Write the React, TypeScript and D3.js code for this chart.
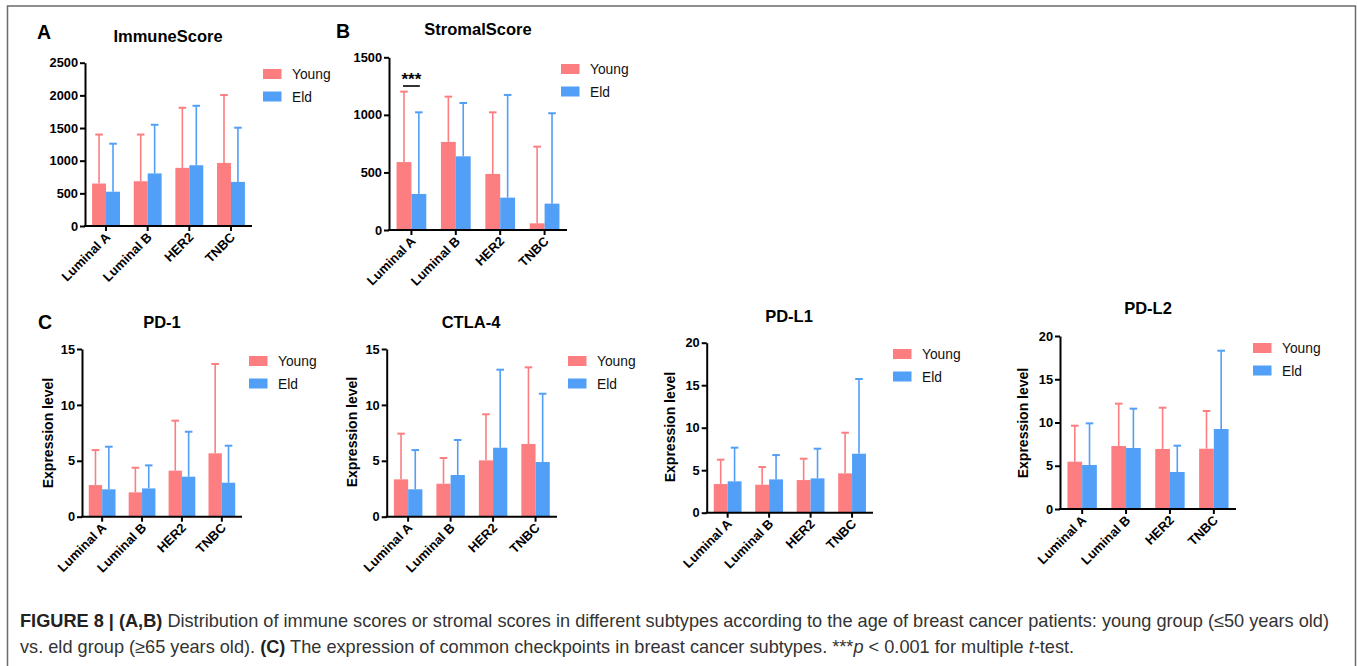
import React, { useRef, useEffect } from "react";
import * as d3 from "d3";

// categories / series
const subtypes = ["Luminal A", "Luminal B", "HER2", "TNBC"];
const groups = ["Young", "Eld"];

// A: ImmuneScore (mean, sd)
const immuneYoung = [650, 685, 890, 965];
const immuneYoungSd = [750, 715, 920, 1040];
const immuneEld = [525, 805, 930, 675];
const immuneEldSd = [735, 745, 910, 830];

// B: StromalScore
const stromalYoung = [590, 765, 487, 58];
const stromalYoungSd = [612, 393, 535, 666];
const stromalEld = [313, 640, 281, 229];
const stromalEldSd = [709, 463, 892, 785];

// C: checkpoints
const pd1Young = [2.83, 2.18, 4.12, 5.67];
const pd1YoungSd = [3.13, 2.2, 4.47, 7.99];
const pd1Eld = [2.45, 2.53, 3.58, 3.04];
const pd1EldSd = [3.81, 2.06, 4.02, 3.31];

const ctla4Young = [3.34, 2.95, 5.04, 6.5];
const ctla4YoungSd = [4.09, 2.3, 4.12, 6.86];
const ctla4Eld = [2.45, 3.73, 6.17, 4.89];
const ctla4EldSd = [3.51, 3.13, 6.98, 6.11];

const pdl1Young = [3.37, 3.29, 3.84, 4.63];
const pdl1YoungSd = [2.87, 2.08, 2.51, 4.78];
const pdl1Eld = [3.69, 3.92, 4.04, 6.94];
const pdl1EldSd = [3.96, 2.86, 3.49, 8.79];

const pdl2Young = [5.47, 7.28, 6.94, 6.97];
const pdl2YoungSd = [4.16, 4.9, 4.77, 4.36];
const pdl2Eld = [5.09, 7.05, 4.28, 9.25];
const pdl2EldSd = [4.81, 4.55, 3.04, 9.05];

const ticks2500 = [0, 500, 1000, 1500, 2000, 2500];
const ticks1500 = [0, 500, 1000, 1500];
const ticks15 = [0, 5, 10, 15];
const ticks20 = [0, 5, 10, 15, 20];

const COLORS = ["#FC7E80", "#529FF8"];
const FONT = "'Liberation Sans', Arial, Helvetica, sans-serif";

const panels = [
  {
    title: "ImmuneScore", letter: "A", letterX: 37, letterY: 39, titleX: 168, titleY: 42,
    x0: 85, x1: 252, yTop: 62.7, yBot: 226, max: 2500, ticks: ticks2500,
    young: immuneYoung, youngSd: immuneYoungSd, eld: immuneEld, eldSd: immuneEldSd,
    legX: 263, legY: 74, ylabel: null,
  },
  {
    title: "StromalScore", letter: "B", letterX: 336, letterY: 38, titleX: 478, titleY: 35,
    x0: 389, x1: 567, yTop: 57.3, yBot: 230, max: 1500, ticks: ticks1500,
    young: stromalYoung, youngSd: stromalYoungSd, eld: stromalEld, eldSd: stromalEldSd,
    legX: 561, legY: 69, ylabel: null, sig: true,
  },
  {
    title: "PD-1", letter: "C", letterX: 38, letterY: 329, titleX: 162, titleY: 328,
    x0: 82, x1: 242, yTop: 349, yBot: 516.7, max: 15, ticks: ticks15,
    young: pd1Young, youngSd: pd1YoungSd, eld: pd1Eld, eldSd: pd1EldSd,
    legX: 249, legY: 361, ylabel: { x: 48, y: 433 },
  },
  {
    title: "CTLA-4", titleX: 471, titleY: 328,
    x0: 386.7, x1: 557, yTop: 349, yBot: 516.7, max: 15, ticks: ticks15,
    young: ctla4Young, youngSd: ctla4YoungSd, eld: ctla4Eld, eldSd: ctla4EldSd,
    legX: 568, legY: 361, ylabel: { x: 352, y: 432 },
  },
  {
    title: "PD-L1", titleX: 789, titleY: 322,
    x0: 706.7, x1: 873, yTop: 342.7, yBot: 512.7, max: 20, ticks: ticks20,
    young: pdl1Young, youngSd: pdl1YoungSd, eld: pdl1Eld, eldSd: pdl1EldSd,
    legX: 893, legY: 354, ylabel: { x: 670, y: 427 },
  },
  {
    title: "PD-L2", titleX: 1148, titleY: 314,
    x0: 1060, x1: 1236, yTop: 336, yBot: 509, max: 20, ticks: ticks20,
    young: pdl2Young, youngSd: pdl2YoungSd, eld: pdl2Eld, eldSd: pdl2EldSd,
    legX: 1253, legY: 348, ylabel: { x: 1023, y: 423 },
  },
];

const drawPanel = (svg: any, p: any) => {
  const g = svg.append("g").attr("font-family", FONT);

  const x = d3
    .scaleBand()
    .domain(subtypes)
    .range([p.x0, p.x1])
    .paddingInner(0.33)
    .paddingOuter(0.17);
  const xs = d3.scaleBand().domain(groups).range([0, x.bandwidth()]);
  const y = d3.scaleLinear().domain([0, p.max]).range([p.yBot, p.yTop]);

  const series = [
    { key: "Young", mean: p.young, sd: p.youngSd },
    { key: "Eld", mean: p.eld, sd: p.eldSd },
  ];

  series.forEach((s, si) => {
    const rows = subtypes.map((c, i) => ({ c, m: s.mean[i], sd: s.sd[i] }));
    const sg = g.append("g");
    // error bars (upper only)
    rows.forEach((d) => {
      const cx = (x(d.c) as number) + (xs(s.key) as number) + xs.bandwidth() / 2;
      sg.append("line")
        .attr("x1", cx).attr("x2", cx)
        .attr("y1", y(d.m)).attr("y2", y(d.m + d.sd))
        .attr("stroke", COLORS[si]).attr("stroke-width", 1.6);
      sg.append("line")
        .attr("x1", cx - 3.8).attr("x2", cx + 3.8)
        .attr("y1", y(d.m + d.sd)).attr("y2", y(d.m + d.sd))
        .attr("stroke", COLORS[si]).attr("stroke-width", 2);
    });
    sg.selectAll("rect")
      .data(rows)
      .join("rect")
      .attr("x", (d: any) => (x(d.c) as number) + (xs(s.key) as number))
      .attr("y", (d: any) => y(d.m))
      .attr("width", xs.bandwidth())
      .attr("height", (d: any) => p.yBot - y(d.m))
      .attr("fill", COLORS[si]);
  });

  // y axis
  const ya = g.append("g")
    .attr("transform", `translate(${p.x0},0)`)
    .call(
      d3.axisLeft(y).tickValues(p.ticks).tickFormat(d3.format("d"))
        .tickSize(5).tickPadding(2).tickSizeOuter(0)
    );
  ya.select(".domain").attr("stroke", "#000").attr("stroke-width", 2);
  ya.selectAll(".tick line").attr("stroke", "#000").attr("stroke-width", 2);
  ya.selectAll(".tick text")
    .attr("fill", "#000").attr("font-size", 12.8).attr("font-weight", "bold")
    .attr("font-family", FONT);

  // x axis
  const xa = g.append("g")
    .attr("transform", `translate(0,${p.yBot})`)
    .call(d3.axisBottom(x).tickSize(5).tickSizeOuter(0).tickFormat(() => ""));
  xa.select(".domain").attr("d", `M${p.x0 - 1},0H${p.x1}`)
    .attr("stroke", "#000").attr("stroke-width", 2);
  xa.selectAll(".tick line").attr("stroke", "#000").attr("stroke-width", 2);

  subtypes.forEach((c) => {
    const cx = (x(c) as number) + x.bandwidth() / 2;
    g.append("text")
      .attr("transform", `translate(${cx + 5},${p.yBot + 12}) rotate(-45)`)
      .attr("text-anchor", "end")
      .attr("font-size", 13)
      .attr("font-weight", "bold")
      .attr("fill", "#000")
      .text(c);
  });

  // title
  g.append("text")
    .attr("x", p.titleX).attr("y", p.titleY)
    .attr("text-anchor", "middle")
    .attr("font-size", 16.5).attr("font-weight", "bold")
    .text(p.title);

  if (p.letter) {
    g.append("text")
      .attr("x", p.letterX).attr("y", p.letterY)
      .attr("font-size", 19.5).attr("font-weight", "bold")
      .text(p.letter);
  }

  if (p.ylabel) {
    g.append("text")
      .attr("transform", `translate(${p.ylabel.x + 5},${p.ylabel.y}) rotate(-90)`)
      .attr("text-anchor", "middle")
      .attr("font-size", 14).attr("font-weight", "bold")
      .text("Expression level");
  }

  // legend
  groups.forEach((k, i) => {
    const ly = p.legY + i * 22.5;
    g.append("rect")
      .attr("x", p.legX).attr("y", ly - 5)
      .attr("width", 18.5).attr("height", 10)
      .attr("fill", COLORS[i]);
    g.append("text")
      .attr("x", p.legX + 29).attr("y", ly + 5)
      .attr("font-size", 13.8)
      .attr("fill", "#111")
      .text(k);
  });

  if (p.sig) {
    const c0 = x(subtypes[0]) as number;
    const a = c0 + xs.bandwidth() / 2;
    const b = c0 + xs.bandwidth() * 1.5;
    g.append("line")
      .attr("x1", a - 1).attr("x2", b + 1)
      .attr("y1", 86).attr("y2", 86)
      .attr("stroke", "#000").attr("stroke-width", 1.6);
    g.append("text")
      .attr("x", (a + b) / 2).attr("y", 85)
      .attr("text-anchor", "middle")
      .attr("font-size", 17)
      .attr("font-weight", "bold")
      .text("***");
  }
};

const App = () => {
  const ref = useRef<SVGSVGElement>(null);

  useEffect(() => {
    const svg = d3.select(ref.current);
    svg.selectAll("*").remove();

    svg.append("rect").attr("width", 1357).attr("height", 666).attr("fill", "#fff");

    // frame
    svg.append("path")
      .attr("d", "M7.5,666V6H1355.5V666")
      .attr("fill", "none")
      .attr("stroke", "#6b6b6b")
      .attr("stroke-width", 1.5);

    panels.forEach((p) => drawPanel(svg, p));

    // caption
    const cap = svg.append("g")
      .attr("font-family", "'Liberation Sans Narrow', 'Arial Narrow', 'Liberation Sans', Arial, sans-serif")
      .attr("font-size", 17.5)
      .attr("fill", "#333");

    const line1 = cap.append("text").attr("x", 0).attr("y", 0);
    line1.append("tspan").attr("font-weight", "bold").attr("fill", "#222").text("FIGURE 8 | (A,B)");
    line1.append("tspan").text(
      " Distribution of immune scores or stromal scores in different subtypes according to the age of breast cancer patients: young group (\u226450 years old)"
    );

    const line2 = cap.append("text").attr("x", 0).attr("y", 0);
    line2.append("tspan").text("vs. eld group (\u226565 years old). ");
    line2.append("tspan").attr("font-weight", "bold").attr("fill", "#222").text("(C)");
    line2.append("tspan").text(" The expression of common checkpoints in breast cancer subtypes. ***");
    line2.append("tspan").attr("font-style", "italic").text("p");
    line2.append("tspan").text(" < 0.001 for multiple ");
    line2.append("tspan").attr("font-style", "italic").text("t");
    line2.append("tspan").text("-test.");

    const w1 = (line1.node() as SVGTextElement).getComputedTextLength();
    const k = 1310 / w1;
    line1.attr("transform", `translate(20,627) scale(${k},1)`);
    line2.attr("transform", `translate(20,653) scale(${k},1)`);
  }, []);

  return (
    <svg
      ref={ref}
      width={1357}
      height={666}
      style={{ position: "absolute", left: 0, top: 0, display: "block" }}
    />
  );
};

export default App;
